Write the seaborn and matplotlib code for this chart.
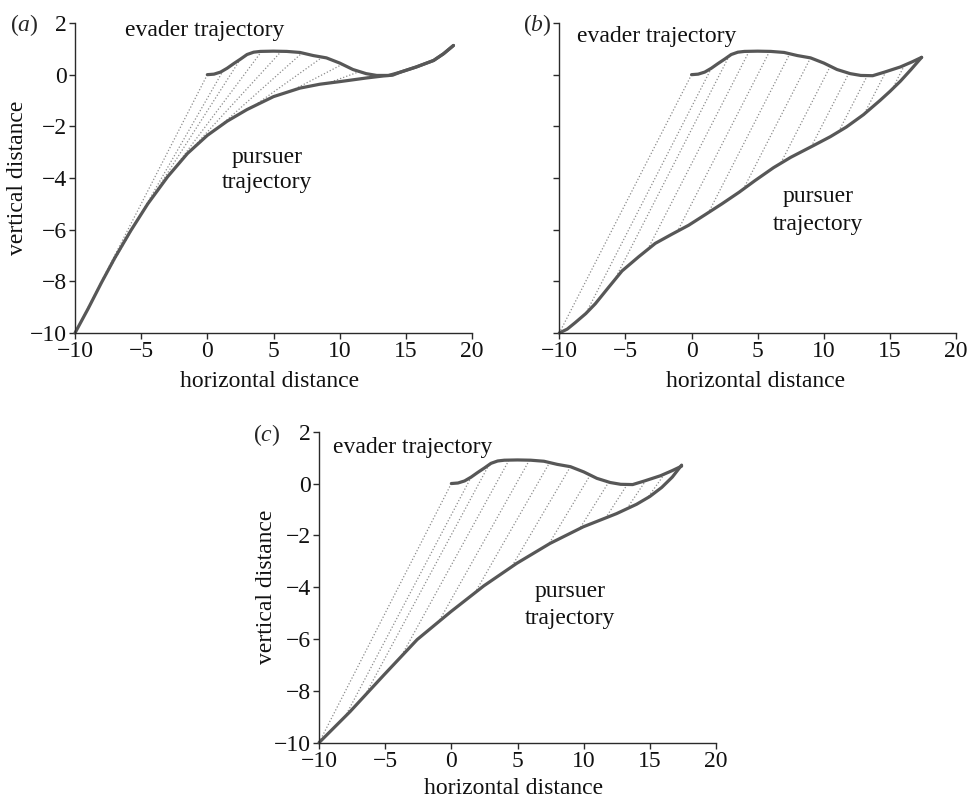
import matplotlib
matplotlib.use("Agg")
import matplotlib.pyplot as plt
import numpy as np
import pandas as pd
import seaborn as sns

# ---------------- data ----------------
# evader trajectory, panel (a) (runs until 18.6)
evader_a_x = [0, 0.5, 1.0, 1.5, 2.0, 2.5, 3.0, 3.5, 4.0, 5.0, 6.0, 7.0, 8.0, 9.0,
              10.0, 11.0, 12.0, 12.8, 13.7, 14.6, 15.8, 17.1, 17.85, 18.6]
evader_a_y = [0, 0.02, 0.1, 0.25, 0.43, 0.6, 0.78, 0.87, 0.9, 0.91, 0.9, 0.86, 0.74, 0.65,
              0.45, 0.2, 0.04, -0.03, -0.03, 0.1, 0.3, 0.55, 0.81, 1.13]
# evader trajectory, panels (b) and (c) (captured at 17.4)
evader_bc_x = [0, 0.5, 1.0, 1.5, 2.0, 2.5, 3.0, 3.5, 4.0, 5.0, 6.0, 7.0, 8.0, 9.0,
               10.0, 11.0, 12.0, 12.8, 13.7, 14.6, 15.8, 16.7, 17.4]
evader_bc_y = [0, 0.02, 0.1, 0.25, 0.43, 0.6, 0.78, 0.87, 0.9, 0.91, 0.9, 0.86, 0.74, 0.65,
               0.45, 0.2, 0.04, -0.03, -0.04, 0.1, 0.3, 0.5, 0.67]

# pursuer trajectories
pursuer_a_x = [-10, -9.0, -8.0, -7.0, -5.8, -4.5, -3.0, -1.5, 0.0, 1.5, 3.0, 5.0, 7.0, 8.5,
               10.0, 12.0, 13.3, 14.0, 14.6, 15.8, 17.1, 17.85, 18.6]
pursuer_a_y = [-10, -9.05, -8.05, -7.1, -6.05, -5.0, -3.95, -3.05, -2.35, -1.8, -1.35, -0.85,
               -0.52, -0.37, -0.27, -0.13, -0.05, -0.02, 0.1, 0.3, 0.55, 0.81, 1.13]
pursuer_b_x = [-10, -9.4, -8.8, -8.0, -7.28, -6.3, -5.26, -4.0, -2.74, -1.5, -0.22, 1.0, 2.3,
               3.6, 4.8, 6.2, 7.5, 9.2, 10.5, 11.7, 13.0, 14.25, 15.0, 15.8, 16.6, 17.4]
pursuer_b_y = [-10, -9.85, -9.6, -9.25, -8.87, -8.25, -7.6, -7.05, -6.53, -6.18, -5.83, -5.43,
               -5.0, -4.55, -4.1, -3.6, -3.2, -2.75, -2.4, -2.03, -1.55, -1.0, -0.65, -0.25,
               0.2, 0.67]
pursuer_c_x = [-10, -7.65, -5.12, -2.58, -0.05, 2.45, 4.94, 7.46, 9.97, 12.49, 14.0, 15.0,
               15.9, 16.7, 17.4]
pursuer_c_y = [-10, -8.8, -7.4, -6.02, -4.95, -3.95, -3.08, -2.31, -1.67, -1.16, -0.8, -0.5,
               -0.15, 0.25, 0.71]

# lines of sight: evader end (ex, ey) -> pursuer end (px, py)
los_a_ex = [0, 1.2, 2.5, 4.1, 5.6, 7.2, 8.7, 10.2, 11.5, 12.6]
los_a_ey = [0, 0.16, 0.6, 0.9, 0.91, 0.86, 0.68, 0.4, 0.12, -0.01]
los_a_px = [-10, -8.1, -6.0, -3.9, -1.6, 0.9, 3.5, 6.3, 9.1, 11.9]
los_a_py = [-10, -8.15, -6.2, -4.58, -3.11, -2.02, -1.22, -0.64, -0.33, -0.14]

los_b_ex = [0, 1.5, 2.85, 4.35, 5.9, 7.45, 9.0, 10.5, 11.9, 13.3, 14.7, 16.1]
los_b_ey = [0, 0.25, 0.73, 0.9, 0.9, 0.83, 0.65, 0.33, 0.06, -0.03, 0.12, 0.36]
los_b_px = [-10, -8.0, -5.84, -3.32, -1.06, 1.29, 3.92, 6.73, 9.05, 11.12, 13.05, 15.18]
los_b_py = [-10, -9.25, -7.96, -6.77, -6.06, -5.33, -4.43, -3.44, -2.79, -2.21, -1.53, -0.56]

los_c_ex = [0, 1.5, 2.85, 4.35, 5.9, 7.45, 9.0, 10.5, 11.9, 13.3, 14.7, 16.1]
los_c_ey = [0, 0.25, 0.73, 0.9, 0.9, 0.83, 0.65, 0.33, 0.06, -0.03, 0.12, 0.36]
los_c_px = [-10, -8.02, -6.52, -3.81, -0.95, 1.78, 4.56, 7.35, 9.7, 11.66, 13.28, 14.82]
los_c_py = [-10, -8.99, -8.17, -6.69, -5.33, -4.22, -3.21, -2.35, -1.74, -1.33, -0.96, -0.56]

x_ticks = [-10, -5, 0, 5, 10, 15, 20]
y_ticks = [2, 0, -2, -4, -6, -8, -10]

# ---------------- style ----------------
sns.set_theme(style="ticks")
plt.rcParams["font.family"] = ["Liberation Serif", "DejaVu Serif"]
plt.rcParams["mathtext.fontset"] = "custom"
plt.rcParams["mathtext.rm"] = "Liberation Serif"
plt.rcParams["mathtext.it"] = "Liberation Serif:italic"
plt.rcParams["axes.unicode_minus"] = True

FS = 17
CURVE = "#575757"
LOS = "#8c8c8c"
AXC = "#2a2a2a"

fig = plt.figure(figsize=(9.75, 8), dpi=100)
W, H = 975.0, 800.0
ax_a = fig.add_axes([75 / W, 1 - 333 / H, 397 / W, 310 / H])
ax_b = fig.add_axes([559.3 / W, 1 - 333 / H, 396.7 / W, 310 / H])
ax_c = fig.add_axes([319 / W, 1 - 742.7 / H, 397 / W, 311 / H])


def los_frame(ex, ey, px, py):
    rows = []
    for i in range(len(ex)):
        rows.append({"x": ex[i], "y": ey[i], "seg": i})
        rows.append({"x": px[i], "y": py[i], "seg": i})
    return pd.DataFrame(rows)


def draw(ax, ev_x, ev_y, pu_x, pu_y, lex, ley, lpx, lpy):
    df_los = los_frame(lex, ley, lpx, lpy)
    sns.lineplot(data=df_los, x="x", y="y", units="seg", estimator=None, sort=False,
                 ax=ax, color=LOS, lw=0.9, linestyle=(0, (1.0, 1.6)), legend=False)
    sns.lineplot(x=pu_x, y=pu_y, sort=False, estimator=None, ax=ax, color=CURVE,
                 lw=2.3, legend=False, clip_on=False, solid_capstyle="round")
    sns.lineplot(x=ev_x, y=ev_y, sort=False, estimator=None, ax=ax, color=CURVE,
                 lw=2.3, legend=False, clip_on=False, solid_capstyle="round")
    ax.set_xlim(-10, 20)
    ax.set_ylim(-10, 2)
    ax.set_xticks(x_ticks)
    ax.set_yticks(y_ticks)
    ax.set_facecolor("white")
    sns.despine(ax=ax)
    for s in ("left", "bottom"):
        ax.spines[s].set_color(AXC)
        ax.spines[s].set_linewidth(1.0)
    ax.tick_params(axis="both", direction="out", length=4, width=1.0, color=AXC,
                   labelsize=FS, labelcolor="#111111", pad=2)
    ax.set_xlabel("horizontal distance", fontsize=FS, color="#111111")
    ax.xaxis.label.set_va("center")
    ax.set_ylabel("")


draw(ax_a, evader_a_x, evader_a_y, pursuer_a_x, pursuer_a_y,
     los_a_ex, los_a_ey, los_a_px, los_a_py)
draw(ax_b, evader_bc_x, evader_bc_y, pursuer_b_x, pursuer_b_y,
     los_b_ex, los_b_ey, los_b_px, los_b_py)
draw(ax_c, evader_bc_x, evader_bc_y, pursuer_c_x, pursuer_c_y,
     los_c_ex, los_c_ey, los_c_px, los_c_py)

ax_b.tick_params(axis="y", labelleft=False)

for ax in (ax_a, ax_c):
    ax.set_ylabel("vertical distance", fontsize=FS, color="#111111")
    ax.yaxis.label.set_va("center")
ax_a.yaxis.set_label_coords(-0.1436, 0.5)
ax_c.yaxis.set_label_coords(-0.132, 0.5)
ax_a.xaxis.set_label_coords(0.49, -0.155)
ax_b.xaxis.set_label_coords(0.495, -0.155)
ax_c.xaxis.set_label_coords(0.49, -0.148)

# annotations
txt = dict(fontsize=FS, color="#111111")
ax_a.text(-6.22, 1.48, "evader trajectory", ha="left", va="baseline", **txt)
ax_a.text(4.5, -3.41, "pursuer", ha="center", va="baseline", **txt)
ax_a.text(4.5, -4.4, "trajectory", ha="center", va="baseline", **txt)

ax_b.text(-8.64, 1.25, "evader trajectory", ha="left", va="baseline", **txt)
ax_b.text(9.6, -4.92, "pursuer", ha="center", va="baseline", **txt)
ax_b.text(9.6, -6.0, "trajectory", ha="center", va="baseline", **txt)

ax_c.text(-8.92, 1.16, "evader trajectory", ha="left", va="baseline", **txt)
ax_c.text(8.97, -4.37, "pursuer", ha="center", va="baseline", **txt)
ax_c.text(8.97, -5.42, "trajectory", ha="center", va="baseline", **txt)

# panel letters
fig.text(10 / W, 1 - 31 / H, r"$\mathrm{(}a\mathrm{)}$", fontsize=FS, ha="left", va="baseline")
fig.text(523 / W, 1 - 31 / H, r"$\mathrm{(}b\mathrm{)}$", fontsize=FS, ha="left", va="baseline")
fig.text(253 / W, 1 - 441 / H, r"$\mathrm{(}c\mathrm{)}$", fontsize=FS, ha="left", va="baseline")

fig.savefig("out.png", dpi=100, facecolor="white")
